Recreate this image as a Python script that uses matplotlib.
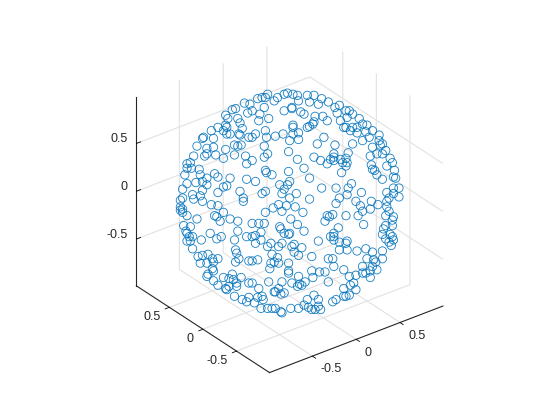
import numpy as np
import matplotlib
matplotlib.use("Agg")
import matplotlib.pyplot as plt
from mpl_toolkits.mplot3d import proj3d

# points as seen on the picture plane, in data units from the sphere centre
view_h = [
    -.41,-.36,-.52,-.49,-.58,-.56,-.47,-.45,-.38,-.65,-.58,-.57,-.60,-.57,-.54,-.71,-.43,-.46,-.45,-.78,
    -.79,-.69,-.37,-.84,-.75,-.69,-.50,-.47,-.44,-.58,-.75,-.67,-.87,-.77,-.60,-.50,-.40,-.93,-.90,-.39,
    -.29,-.25,-.22,-.20,-.11,-.14,-.05,-.02,.03,.07,.08,.16,.22,.18,.26,.29,.35,-.23,-.34,-.27,
    -.05,.02,.02,.10,.13,.23,.30,.34,-.28,-.19,.03,.03,.08,.16,.18,.21,.22,.03,-.22,-.31,
    -.34,-.21,-.13,-.06,0,.08,.31,.25,-.23,-.01,-.20,-.23,.07,.22,.28,.37,-.34,.34,
    .45,.41,.43,.51,.54,.57,.52,.46,.63,.66,.70,.75,.51,.49,.57,.61,.55,.61,.69,.72,
    .66,.81,.81,.84,.82,.57,.75,.87,.79,.84,.73,.91,.93,.53,.41,.40,.40,.46,.51,.40,.52,.48,.74,
    -.93,-.89,-.82,-.81,-.95,-.68,-.65,-.75,-.54,-.39,-.93,-.85,-.79,-.75,-.57,-.60,-.97,-.79,-.45,-.88,
    -.81,-.65,-.42,-.42,-.97,-.99,-.87,-.79,-.71,-.65,-.99,-.97,-.99,-.97,-.60,-.68,-.66,-.93,-.84,-.54,
    -.47,-.63,-.96,-.90,-.94,-.93,-.72,-.47,-.62,-.66,-.91,-.88,-.90,-.80,-.50,-.39,-.93,
    -.22,-.21,-.16,-.31,-.01,.13,.18,0,-.02,-.09,.29,-.05,-.07,-.22,-.25,.06,0,.18,-.10,-.15,
    -.03,.05,-.07,.12,-.22,.01,.07,-.28,-.23,-.09,-.08,.13,-.05,-.01,0,-.34,-.26,-.31,-.34,-.26,
    -.17,-.07,.26,.34,.32,.36,-.31,.37,.04,
    .51,.47,.75,.77,.79,.84,.88,.95,.94,.96,.56,.53,.42,.52,.45,.42,.65,.88,.99,.94,
    .94,.99,.90,.88,.74,.60,.64,.66,.73,.80,.88,.90,.39,.51,.62,.87,.94,.93,.67,.87,
    .85,.93,.44,.40,.40,.84,.87,.91,.93,.94,.90,.52,.45,.51,.40,
    -.88,-.49,-.48,-.46,-.49,-.83,-.79,-.74,-.70,-.65,-.69,-.81,-.75,-.70,-.74,-.69,-.75,-.37,-.69,-.65,
    -.60,-.52,-.55,-.51,-.44,-.48,-.48,-.55,-.57,-.58,-.37,-.50,-.43,-.39,-.37,
    -.20,-.16,-.10,.02,.11,.04,.08,.20,.35,-.29,-.34,-.17,-.14,-.10,-.11,-.18,-.01,-.01,-.01,.27,
    .32,.20,.21,.08,.14,-.19,-.07,.02,.09,.07,.11,.35,-.34,-.28,-.10,-.13,-.05,-.08,-.14,.22,
    .16,.26,-.29,-.25,-.24,-.32,-.26,-.20,-.16,-.13,-.08,-.07,.01,.08,.13,.17,.20,.26,.28,.23,
    .45,.52,.61,.69,.75,.84,.39,.40,.70,.76,.84,.78,.66,.75,.79,.73,.49,.69,.66,.73,
    .54,.60,.58,.55,.60,.49,.54,.51,.49,.42,.39,.92,
]
view_v = [
    .89,.88,.83,.84,.78,.75,.75,.71,.80,.67,.69,.67,.64,.61,.61,.64,.66,.61,.60,.58,
    .57,.57,.58,.50,.48,.49,.51,.50,.51,.47,.43,.42,.41,.41,.39,.42,.41,.34,.35,.34,
    .93,.94,.94,.97,.94,.91,.97,.98,.97,.96,.91,.96,.96,.90,.88,.93,.90,.85,.82,.79,
    .82,.85,.84,.81,.79,.77,.77,.73,.73,.75,.69,.67,.62,.67,.68,.70,.72,.61,.64,.61,
    .58,.58,.59,.61,.55,.56,.58,.52,.50,.45,.43,.40,.38,.40,.37,.38,.37,.34,
    .87,.85,.80,.82,.82,.79,.76,.73,.75,.70,.69,.64,.67,.67,.67,.67,.64,.62,.63,.58,
    .55,.60,.55,.52,.51,.52,.49,.46,.43,.43,.41,.39,.35,.44,.51,.43,.40,.38,.39,.37,.35,.35,.33,
    .30,.30,.29,.24,.24,.25,.22,.21,.21,.20,.16,.17,.18,.15,.14,.13,.11,.10,.09,.06,
    .05,.08,.03,0,.03,.01,.02,0,-.03,-.04,-.05,-.07,-.08,-.10,-.10,-.13,-.14,-.13,-.16,-.16,
    -.18,-.18,-.22,-.23,-.27,-.29,-.29,-.27,-.32,-.34,-.32,-.32,-.36,-.35,-.35,-.32,-.36,
    .28,.26,.24,.18,.27,.30,.21,.18,.15,.15,.12,.11,.07,.09,.07,.07,.03,.02,-.03,-.06,
    -.04,-.05,-.09,-.10,-.10,-.16,-.21,-.20,-.20,-.23,-.25,-.27,-.29,-.30,-.29,-.20,-.28,-.31,-.32,-.35,
    -.38,-.38,-.36,-.13,-.18,-.14,-.38,-.32,-.39,
    .32,.26,.29,.28,.24,.20,.32,.28,.22,.21,.16,.12,.12,.06,.03,-.02,.08,.08,.12,.12,
    .07,.04,.03,0,0,0,-.04,-.09,-.07,-.03,-.05,-.09,-.12,-.13,-.13,-.13,-.14,-.17,-.21,-.22,
    -.25,-.22,-.24,-.29,-.32,-.30,-.34,-.30,-.32,-.35,-.37,-.36,-.37,-.38,-.35,
    -.43,-.44,-.47,-.52,-.55,-.50,-.49,-.48,-.52,-.52,-.55,-.56,-.56,-.61,-.66,-.63,-.68,-.54,-.72,-.76,
    -.69,-.66,-.70,-.71,-.69,-.74,-.77,-.77,-.80,-.79,-.74,-.86,-.89,-.91,-.87,
    -.41,-.48,-.41,-.41,-.42,-.46,-.49,-.50,-.52,-.53,-.54,-.56,-.55,-.56,-.51,-.61,-.56,-.63,-.65,-.64,
    -.64,-.63,-.69,-.68,-.73,-.73,-.73,-.74,-.75,-.77,-.76,-.73,-.74,-.79,-.79,-.82,-.83,-.84,-.82,-.85,
    -.89,-.89,-.87,-.86,-.89,-.92,-.97,-.97,-.97,-.97,-1.0,-1.01,-.97,-.97,-.94,-.96,-.98,-.95,-.98,-.98,
    -.44,-.44,-.45,-.43,-.46,-.45,-.52,-.59,-.52,-.53,-.52,-.55,-.59,-.59,-.62,-.63,-.62,-.65,-.65,-.69,
    -.68,-.67,-.74,-.76,-.80,-.79,-.85,-.86,-.86,-.89,-.91,-.40,
]
ticks = [-0.5, 0, 0.5]
tick_labels = ["-0.5", "0", "0.5"]
limit = 0.99

elev, azim = 30, -127.5
e, a = np.radians(elev), np.radians(azim)
right = np.array([-np.sin(a), np.cos(a), 0])
up = np.array([-np.sin(e) * np.cos(a), -np.sin(e) * np.sin(a), np.cos(e)])
toward = np.array([np.cos(e) * np.cos(a), np.cos(e) * np.sin(a), np.sin(e)])

h = np.array(view_h)
v = np.array(view_v)
depth = np.sqrt(np.clip(1 - h**2 - v**2, 0, None))
pts = np.outer(h, right) + np.outer(v, up) + np.outer(depth, toward)

plt.rcParams["font.family"] = ["Liberation Sans", "DejaVu Sans"]
plt.rcParams["axes.unicode_minus"] = False

fig = plt.figure(figsize=(5.6, 4.2), dpi=100)
ax = fig.add_axes([4 / 560, 3 / 420, 1, 1], projection="3d", proj_type="ortho")
ax.view_init(elev=elev, azim=azim)
ax.scatter(pts[:, 0], pts[:, 1], pts[:, 2], s=36, facecolors="none",
           edgecolors="#0072BD", linewidths=0.6, alpha=0.9, depthshade=False)

ax.set_xlim(-limit, limit, view_margin=0)
ax.set_ylim(-limit, limit, view_margin=0)
ax.set_zlim(-limit, limit, view_margin=0)
ax.set_box_aspect((1, 1, 1), zoom=0.875)

for axis in (ax.xaxis, ax.yaxis, ax.zaxis):
    axis.set_ticks(ticks)
    axis.set_ticklabels([])
    axis.set_pane_color((1, 1, 1, 0))
    axis.pane.set_edgecolor("none")
    axis.line.set_color("#262626")
    axis.line.set_linewidth(0.8)
    axis._axinfo["grid"].update(color="#e2e2e2", linewidth=0.8)
    axis._axinfo["tick"]["color"] = "#262626"
    axis._axinfo["tick"]["linewidth"] = {True: 0.6, False: 0.6}
    axis._axinfo["tick"]["inward_factor"] = 0.3
    axis._axinfo["tick"]["outward_factor"] = 0.0
ax.zaxis._axinfo["tick"]["inward_factor"] = 0.0
ax.zaxis._axinfo["tick"]["outward_factor"] = 0.3


def tick_text(x, y, z, s, ha):
    # put the label where the 3D point lands, as plain 2D text
    px, py, _ = proj3d.proj_transform(x, y, z, ax.get_proj())
    ax.text2D(px, py, s, transform=ax.transData, fontsize=9, color="#262626", ha=ha, va="center")


for t, s in zip(ticks, tick_labels):
    tick_text(t, -limit - 0.12, -limit - 0.083, s, "left")
    tick_text(-limit - 0.103, t, -limit - 0.069, s, "right")
    tick_text(-limit - 0.02, limit + 0.108, t, s, "right")

fig.savefig("out.png", dpi=100)
